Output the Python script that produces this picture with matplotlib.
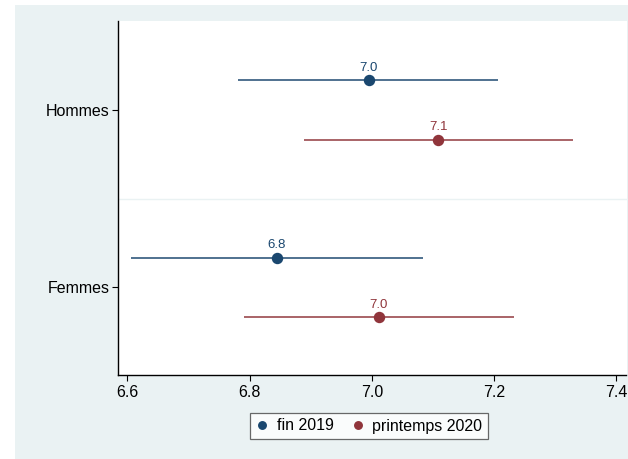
import matplotlib.pyplot as plt
from matplotlib.patches import Rectangle

plt.rcParams['font.family'] = ['Liberation Sans', 'DejaVu Sans']

categories = ['Hommes', 'Femmes']
periods = ['fin 2019', 'printemps 2020']
colors = ['#1A476F', '#90353B']

# means and 95% CI bounds, per period, per category (Hommes, Femmes)
means = [[6.995, 6.845], [7.109, 7.011]]
lower = [[6.781, 6.606], [6.889, 6.791]]
upper = [[7.207, 7.083], [7.329, 7.232]]

cat_pos = [1, 0]
offsets = [0.167, -0.167]

fig = plt.figure(figsize=(6.28, 4.59), dpi=100)
fig.patch.set_facecolor('white')
# light background panel (leaves thin white border top/left)
fig.patches.append(Rectangle((15 / 628, 0), 1 - 15 / 628, 1 - 5 / 459,
                             transform=fig.transFigure, facecolor='#EAF2F3',
                             edgecolor='none', zorder=-10))

ax = fig.add_axes([117.7 / 628, 84 / 459, 508.8 / 628, 354.5 / 459])
ax.set_facecolor('white')

handles = []
for p, period in enumerate(periods):
    ys = [c + offsets[p] for c in cat_pos]
    ax.hlines(ys, lower[p], upper[p], color=colors[p], lw=1.2, alpha=0.9, zorder=2)
    h, = ax.plot(means[p], ys, 'o', color=colors[p], ms=7.2, zorder=3,
                 linestyle='none', label=period)
    handles.append(h)
    for m, y in zip(means[p], ys):
        ax.annotate(f'{m:.1f}', (m, y), xytext=(0, 4.5), textcoords='offset points',
                    ha='center', va='bottom', fontsize=9.5, color=colors[p])

ax.axhline(0.5, color='#EAF2F3', lw=1, zorder=1)

ax.set_xlim(6.5843, 7.4167)
ax.set_ylim(-0.495, 1.505)
ax.set_xticks([6.6, 6.8, 7.0, 7.2, 7.4])
ax.set_xticklabels(['6.6', '6.8', '7.0', '7.2', '7.4'])
ax.set_yticks(cat_pos)
ax.set_yticklabels(categories)
ax.tick_params(axis='both', labelsize=11.5, colors='black', length=4, width=0.8)
ax.tick_params(axis='x', pad=3)
ax.tick_params(axis='y', pad=2)

for side in ['top', 'right']:
    ax.spines[side].set_visible(False)
for side in ['left', 'bottom']:
    ax.spines[side].set_color('black')
    ax.spines[side].set_linewidth(1)

leg = fig.legend(handles=handles, loc='center', bbox_to_anchor=(369 / 628, 33 / 459),
                 ncol=2, fontsize=11.5, frameon=True, fancybox=False,
                 handlelength=0.8, handletextpad=0.5, columnspacing=1.1,
                 borderpad=0.35, markerscale=0.75)
leg.get_frame().set_edgecolor('#444444')
leg.get_frame().set_linewidth(0.9)
leg.get_frame().set_facecolor('white')

fig.savefig('out.png', dpi=100, facecolor=fig.get_facecolor())
